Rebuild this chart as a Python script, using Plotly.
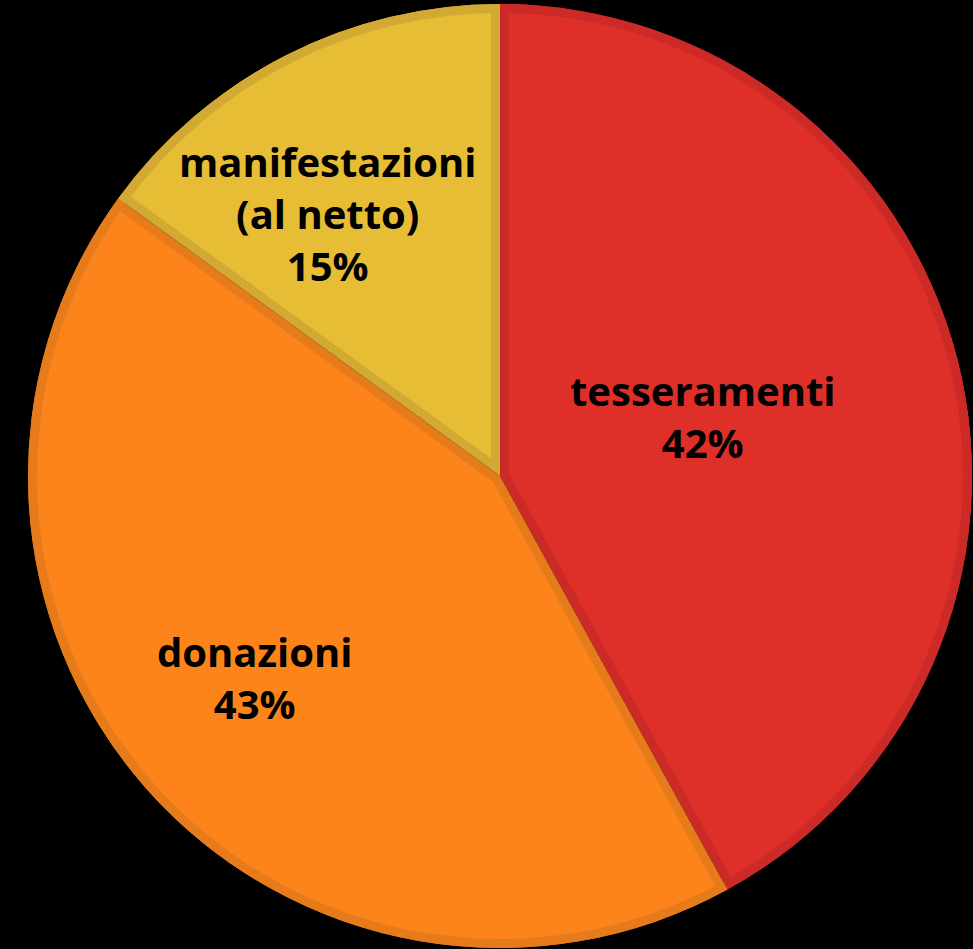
import math
import plotly.graph_objects as go

# ---- data ----
labels = ["tesseramenti", "donazioni", "manifestazioni<br>(al netto)"]
values = [42, 43, 15]
fill_colors = ["#DE2F29", "#FD841A", "#E7BD35"]
edge_colors = ["#CB2A27", "#E67B1C", "#D2AA33"]

# label placement (pixel offsets of each text block from the pie centre)
label_dx = [203, -245, -173]
label_dy = [-60, 201, -263]

# ---- geometry (pixels) ----
W, H = 973, 949
CX, CY, R = 500, 476, 472
BORDER = 9

dom_x = [(CX - R) / W, (CX + R) / W]
dom_y = [(H - (CY + R)) / H, (H - (CY - R)) / H]
domain = dict(x=dom_x, y=dom_y)

common = dict(values=values, labels=labels, sort=False, direction="clockwise",
              rotation=0, domain=domain, showlegend=False)

fig = go.Figure()

# 1) full dark pie (forms the radial borders)
fig.add_trace(go.Pie(**common, marker=dict(colors=edge_colors, line=dict(width=0)),
                     textinfo="none",
                     hovertemplate="%{label}: %{percent}<extra></extra>"))

# 2) light inset wedges, one per slice (pulled so the edges sit BORDER px inside)
total = sum(values)
for i, v in enumerate(values):
    theta = 2 * math.pi * v / total
    s = BORDER / math.sin(theta / 2)
    r_i = R - s
    p = s / r_i
    cols = [fill_colors[j] if j == i else "rgba(0,0,0,0)" for j in range(len(values))]
    pulls = [p if j == i else 0 for j in range(len(values))]
    fig.add_trace(go.Pie(**common, marker=dict(colors=cols, line=dict(width=0)),
                         pull=pulls, textinfo="none", hoverinfo="skip"))

# 3) dark ring along the outer arc
fig.add_trace(go.Pie(**common, hole=(R - BORDER) / R,
                     marker=dict(colors=edge_colors, line=dict(width=0)),
                     textinfo="none", hoverinfo="skip"))

# 4) labels
for lab, v, dx, dy in zip(labels, values, label_dx, label_dy):
    pct = round(100 * v / total)
    fig.add_annotation(x=(CX + dx) / W, y=(H - (CY + dy)) / H, xref="paper", yref="paper",
                       xanchor="center", yanchor="middle", showarrow=False,
                       text=f"{lab}<br>{pct}%", align="center",
                       font=dict(family="Open Sans", size=40, color="black", weight="bold"))

fig.update_layout(width=W, height=H, margin=dict(l=0, r=0, t=0, b=0),
                  paper_bgcolor="black", plot_bgcolor="black")

fig.write_html("out.html", config={"displayModeBar": False},
               post_script="document.body.style.margin='0';document.body.style.background='black';")
